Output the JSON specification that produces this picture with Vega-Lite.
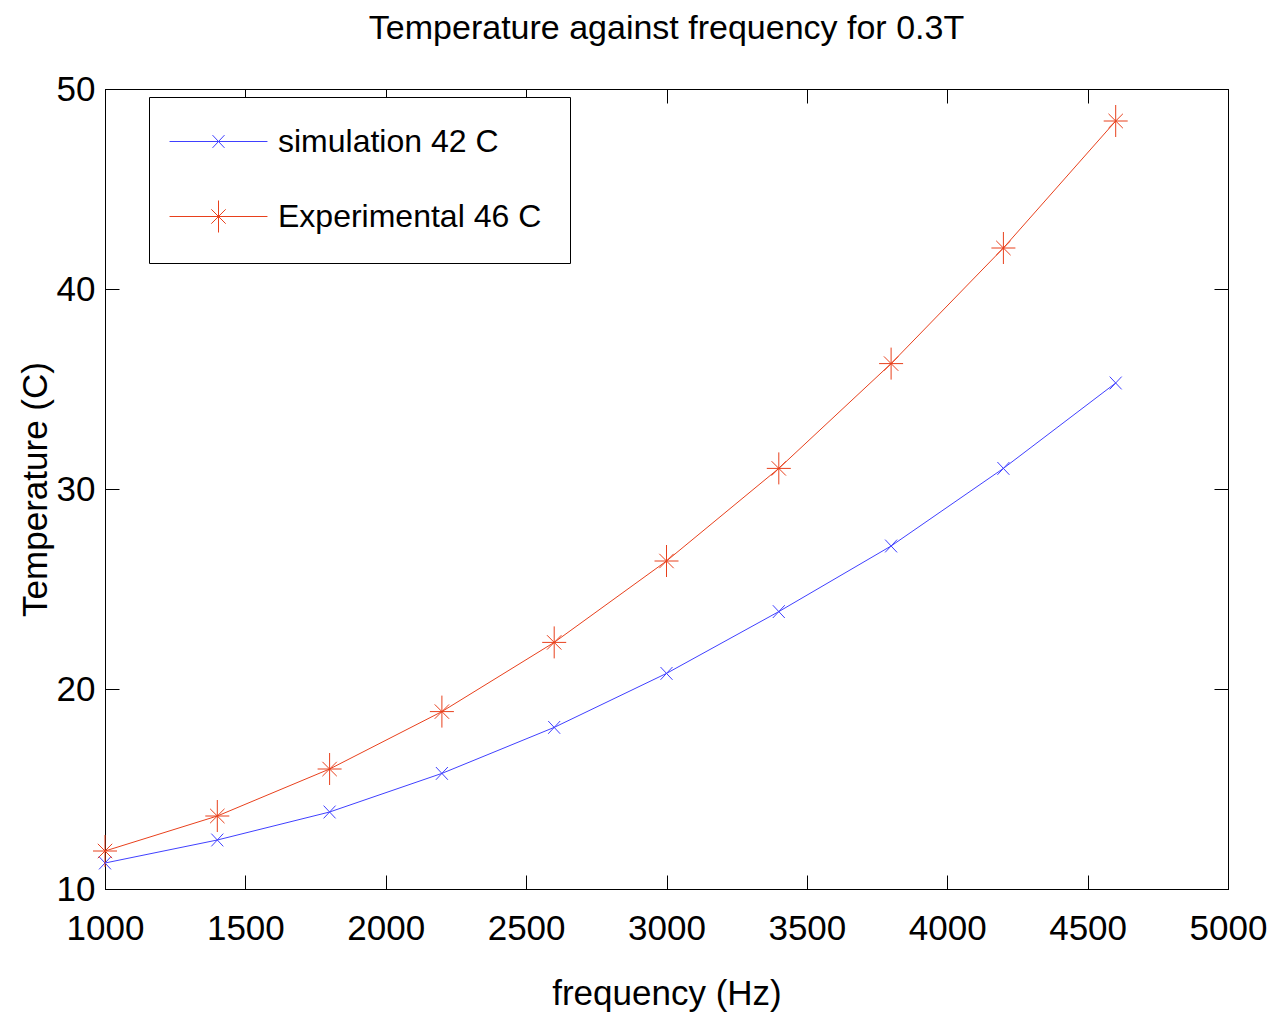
{
  "$schema": "https://vega.github.io/schema/vega-lite/v6.json",
  "autosize": {"type": "none"},
  "padding": {"left": 105, "top": 89, "right": 50, "bottom": 136},
  "width": 1123,
  "height": 800,
  "background": "white",
  "title": {
    "text": "Temperature against frequency for 0.3T",
    "font": "Liberation Sans",
    "fontSize": 34,
    "fontWeight": "normal",
    "color": "black",
    "anchor": "middle",
    "offset": 26
  },
  "config": {
    "view": {"stroke": "black", "strokeWidth": 1},
    "font": "Liberation Sans",
    "axis": {
      "grid": false,
      "domainColor": "black",
      "domainWidth": 1,
      "tickColor": "black",
      "tickWidth": 1,
      "tickSize": -14,
      "labelFont": "Liberation Sans",
      "labelFontSize": 35,
      "labelColor": "black",
      "titleFont": "Liberation Sans",
      "titleFontSize": 35,
      "titleFontWeight": "normal",
      "titleColor": "black"
    }
  },
  "data": {
    "values": [
      {"frequency": 1000, "temperature": 11.3, "series": "simulation 42 C"},
      {"frequency": 1400, "temperature": 12.45, "series": "simulation 42 C"},
      {"frequency": 1800, "temperature": 13.85, "series": "simulation 42 C"},
      {"frequency": 2200, "temperature": 15.78, "series": "simulation 42 C"},
      {"frequency": 2600, "temperature": 18.08, "series": "simulation 42 C"},
      {"frequency": 3000, "temperature": 20.78, "series": "simulation 42 C"},
      {"frequency": 3400, "temperature": 23.87, "series": "simulation 42 C"},
      {"frequency": 3800, "temperature": 27.15, "series": "simulation 42 C"},
      {"frequency": 4200, "temperature": 31.03, "series": "simulation 42 C"},
      {"frequency": 4600, "temperature": 35.3, "series": "simulation 42 C"},
      {"frequency": 1000, "temperature": 11.9, "series": "Experimental 46 C"},
      {"frequency": 1400, "temperature": 13.65, "series": "Experimental 46 C"},
      {"frequency": 1800, "temperature": 16.0, "series": "Experimental 46 C"},
      {"frequency": 2200, "temperature": 18.87, "series": "Experimental 46 C"},
      {"frequency": 2600, "temperature": 22.33, "series": "Experimental 46 C"},
      {"frequency": 3000, "temperature": 26.4, "series": "Experimental 46 C"},
      {"frequency": 3400, "temperature": 31.03, "series": "Experimental 46 C"},
      {"frequency": 3800, "temperature": 36.27, "series": "Experimental 46 C"},
      {"frequency": 4200, "temperature": 42.05, "series": "Experimental 46 C"},
      {"frequency": 4600, "temperature": 48.4, "series": "Experimental 46 C"}
    ]
  },
  "resolve": {"axis": {"x": "independent", "y": "independent"}},
  "layer": [
    {
      "transform": [{"filter": "datum.series === 'simulation 42 C'"}],
      "mark": {"type": "point", "filled": false, "strokeWidth": 1, "size": 1024, "opacity": 1, "shape": "M-0.375,-0.4L0.375,0.4M-0.375,0.4L0.375,-0.4"},
      "encoding": {
        "x": {
          "field": "frequency", "type": "quantitative",
          "scale": {"domain": [1000, 5000], "nice": false, "zero": false},
          "axis": {"title": "frequency (Hz)", "format": "d", "values": [1000, 1500, 2000, 2500, 3000, 3500, 4000, 4500, 5000], "labelPadding": 36, "titlePadding": 30, "labelFlush": false, "labelOverlap": false}
        },
        "y": {
          "field": "temperature", "type": "quantitative",
          "scale": {"domain": [10, 50], "nice": false, "zero": false},
          "axis": {"title": "Temperature (C)", "values": [10, 20, 30, 40, 50], "labelPadding": 24, "titlePadding": 3, "labelFlush": false, "labelOverlap": false}
        },
        "color": {
          "field": "series", "type": "nominal",
          "scale": {"domain": ["simulation 42 C", "Experimental 46 C"], "range": ["#4040ff", "#e8401c"]},
          "legend": {
            "title": null,
            "orient": "none",
            "legendX": 44,
            "legendY": 8,
            "direction": "vertical",
            "strokeColor": "black",
            "fillColor": "white",
            "padding": 28,
            "symbolSize": 1024,
            "symbolStrokeWidth": 1,
            "symbolOpacity": 1,
            "symbolOffset": 25,
            "labelOffset": 43,
            "labelFont": "Liberation Sans",
            "labelFontSize": 32,
            "labelColor": "black",
            "labelLimit": 0,
            "rowPadding": 40
          }
        }
      }
    },
    {
      "transform": [{"filter": "datum.series === 'Experimental 46 C'"}],
      "mark": {"type": "point", "filled": false, "strokeWidth": 1, "size": 1024, "opacity": 1, "shape": "M0,-1L0,1M-0.75,0L0.75,0M-0.45,-0.45L0.45,0.45M-0.45,0.45L0.45,-0.45"},
      "encoding": {
        "x": {
          "field": "frequency", "type": "quantitative",
          "axis": {"orient": "top", "title": null, "labels": false, "values": [1000, 1500, 2000, 2500, 3000, 3500, 4000, 4500, 5000]}
        },
        "y": {
          "field": "temperature", "type": "quantitative",
          "axis": {"orient": "right", "title": null, "labels": false, "values": [10, 20, 30, 40, 50]}
        },
        "color": {
          "field": "series", "type": "nominal",
          "scale": {"domain": ["simulation 42 C", "Experimental 46 C"], "range": ["#4040ff", "#e8401c"]}
        }
      }
    },
    {
      "mark": {"type": "line", "strokeWidth": 1, "clip": true},
      "encoding": {
        "x": {"field": "frequency", "type": "quantitative", "axis": null},
        "y": {"field": "temperature", "type": "quantitative", "axis": null},
        "color": {
          "field": "series", "type": "nominal",
          "scale": {"domain": ["simulation 42 C", "Experimental 46 C"], "range": ["#4040ff", "#e8401c"]}
        },
        "detail": {"field": "series"}
      }
    },
    {
      "mark": {"type": "point", "filled": false, "strokeWidth": 1, "size": 1024, "opacity": 0},
      "encoding": {
        "x": {"field": "frequency", "type": "quantitative", "axis": null},
        "y": {"field": "temperature", "type": "quantitative", "axis": null},
        "color": {
          "field": "series", "type": "nominal",
          "scale": {"domain": ["simulation 42 C", "Experimental 46 C"], "range": ["#4040ff", "#e8401c"]}
        },
        "shape": {
          "field": "series", "type": "nominal",
          "scale": {"domain": ["simulation 42 C", "Experimental 46 C"], "range": ["M-3.06,0L3.06,0M-0.375,-0.4L0.375,0.4M-0.375,0.4L0.375,-0.4", "M-3.06,0L3.06,0M0,-1L0,1M-0.75,0L0.75,0M-0.45,-0.45L0.45,0.45M-0.45,0.45L0.45,-0.45"]}
        }
      }
    }
  ]
}
